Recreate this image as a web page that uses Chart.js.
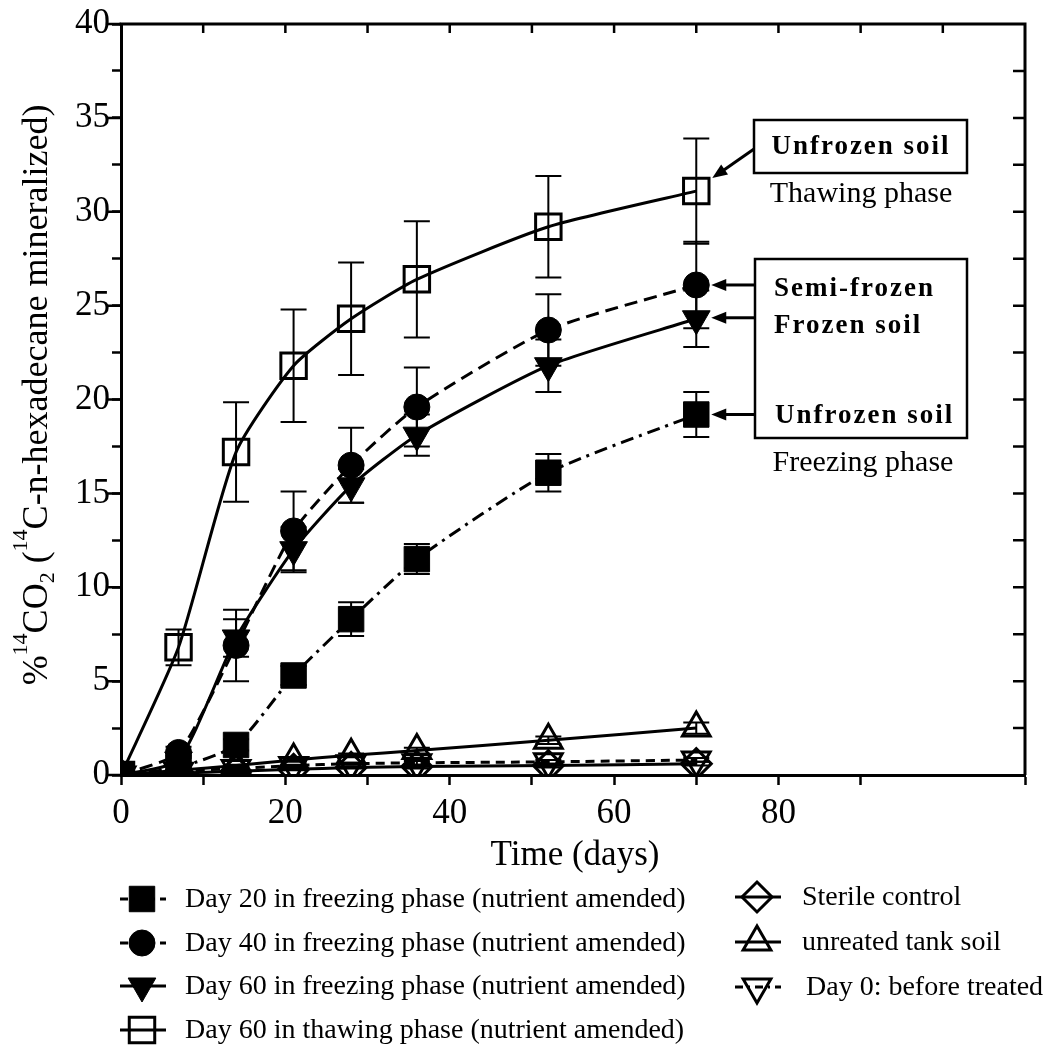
<!DOCTYPE html>
<html><head><meta charset="utf-8">
<script src="https://cdn.jsdelivr.net/npm/chart.js@4.4.0/dist/chart.umd.min.js"></script>
<style>html,body{margin:0;padding:0;background:#fff;}canvas{display:block;}</style>
</head><body>
<canvas id="c" width="1051" height="1049"></canvas>
<script>
// ---------------- DATA ----------------
const days = [0, 7, 14, 21, 28, 36, 52, 70];
const xTickLabels = [0, 20, 40, 60, 80];
const yTickLabels = [0, 5, 10, 15, 20, 25, 30, 35, 40];

const day20Freezing    = [0, 0.4, 1.6, 5.3, 8.3, 11.5, 16.1, 19.2];
const day20FreezingErr = [0, 0.1, 0.3, 0.5, 0.9, 0.8, 1.0, 1.2];
const day40Freezing    = [0, 1.2, 6.9, 13.0, 16.5, 19.6, 23.7, 26.1];
const day40FreezingErr = [0, 0.3, 1.9, 2.1, 2.0, 2.1, 1.9, 2.3];
const day60Freezing    = [0, 0.8, 7.3, 12.0, 15.4, 18.1, 21.8, 24.3];
const day60FreezingErr = [0, 0.2, 1.0, 1.2, 0.9, 1.1, 1.4, 1.5];
const day60Thawing     = [0, 6.8, 17.2, 21.8, 24.3, 26.4, 29.2, 31.1];
const day60ThawingErr  = [0, 0.95, 2.65, 3.0, 3.0, 3.1, 2.7, 2.8];
const sterileControl   = [0, 0.1, 0.2, 0.3, 0.4, 0.45, 0.5, 0.6];
const sterileErr       = [0, 0, 0.05, 0.05, 0.05, 0.1, 0.1, 0.1];
const untreatedSoil    = [0, 0.25, 0.5, 0.8, 1.05, 1.3, 1.85, 2.5];
const untreatedErr     = [0, 0, 0.05, 0.1, 0.1, 0.15, 0.2, 0.3];
const day0Before       = [0, 0.2, 0.35, 0.5, 0.6, 0.65, 0.7, 0.8];
const day0Err          = [0, 0, 0.05, 0.05, 0.05, 0.1, 0.1, 0.1];

const seriesLabels = [
  'Day 20 in freezing phase (nutrient amended)',
  'Day 40 in freezing phase (nutrient amended)',
  'Day 60 in freezing phase (nutrient amended)',
  'Day 60 in thawing phase (nutrient amended)',
  'Sterile control',
  'unreated tank soil',
  'Day 0: before treated'
];
// --------------------------------------

const FONT = "'Liberation Serif', 'Times New Roman', serif";

function pts(arr){ return days.map((d,i)=>({x:d, y:arr[i]})); }

const styles = [
  {style:'rect', r:18, rot:0, filled:true,  dash:[13,6,3,6]},
  {style:'circle', r:13, rot:0, filled:true, dash:[13,7]},
  {style:'triangle', r:16, rot:180, filled:true, dash:[]},
  {style:'rect', r:18, rot:0, filled:false, dash:[]},
  {style:'rectRot', r:15, rot:0, filled:false, dash:[]},
  {style:'triangle', r:16, rot:0, filled:false, dash:[]},
  {style:'triangle', r:16, rot:180, filled:false, dash:[9,6]}
];
const values = [day20Freezing, day40Freezing, day60Freezing, day60Thawing, sterileControl, untreatedSoil, day0Before];
const errors = [day20FreezingErr, day40FreezingErr, day60FreezingErr, day60ThawingErr, sterileErr, untreatedErr, day0Err];

const datasets = values.map((arr, k) => {
  const s = styles[k];
  return {
    label: seriesLabels[k],
    data: pts(arr),
    borderColor: '#000',
    borderWidth: 3,
    borderDash: s.dash,
    pointStyle: s.style,
    pointRadius: s.r,
    pointHoverRadius: s.r,
    pointRotation: s.rot,
    pointBackgroundColor: s.filled ? '#000' : 'rgba(0,0,0,0)',
    pointBorderColor: '#000',
    pointBorderWidth: s.filled ? 1 : 3,
    tension: 0.2,
    fill: false
  };
});

function drawMarker(ctx, s, x, y) {
  ctx.save();
  ctx.setLineDash([]);
  ctx.lineWidth = s.filled ? 1 : 3;
  ctx.strokeStyle = '#000';
  ctx.fillStyle = '#000';
  ctx.beginPath();
  const r = s.r;
  if (s.style === 'rect') {
    const h = r * Math.SQRT1_2;
    ctx.rect(x - h, y - h, 2*h, 2*h);
  } else if (s.style === 'circle') {
    ctx.arc(x, y, r, 0, Math.PI*2);
  } else if (s.style === 'rectRot') {
    ctx.moveTo(x, y - r); ctx.lineTo(x + r, y); ctx.lineTo(x, y + r); ctx.lineTo(x - r, y); ctx.closePath();
  } else if (s.style === 'triangle') {
    let rad = s.rot * Math.PI / 180;
    for (let i = 0; i < 3; i++) {
      const a = rad - Math.PI/2 + i * 2*Math.PI/3;
      const px = x + Math.cos(a) * r, py = y + Math.sin(a) * r;
      if (i === 0) ctx.moveTo(px, py); else ctx.lineTo(px, py);
    }
    ctx.closePath();
  }
  if (s.filled) ctx.fill();
  ctx.stroke();
  ctx.restore();
}

function arrow(ctx, x1, y1, x2, y2) {
  const ang = Math.atan2(y2 - y1, x2 - x1);
  const L = 15, W = 6;
  ctx.save();
  ctx.setLineDash([]);
  ctx.strokeStyle = '#000'; ctx.fillStyle = '#000'; ctx.lineWidth = 3;
  ctx.beginPath();
  ctx.moveTo(x1, y1);
  ctx.lineTo(x2 - Math.cos(ang)*L*0.8, y2 - Math.sin(ang)*L*0.8);
  ctx.stroke();
  ctx.beginPath();
  ctx.moveTo(x2, y2);
  ctx.lineTo(x2 - Math.cos(ang)*L - Math.sin(ang)*W, y2 - Math.sin(ang)*L + Math.cos(ang)*W);
  ctx.lineTo(x2 - Math.cos(ang)*L + Math.sin(ang)*W, y2 - Math.sin(ang)*L - Math.cos(ang)*W);
  ctx.closePath();
  ctx.fill();
  ctx.restore();
}

const errorBarPlugin = {
  id: 'errorBars',
  beforeDatasetsDraw(chart) {
    const ctx = chart.ctx, y = chart.scales.y, x = chart.scales.x;
    ctx.save();
    ctx.strokeStyle = '#000';
    ctx.lineWidth = 2;
    ctx.setLineDash([]);
    errors.forEach((errArr, k) => {
      errArr.forEach((e, i) => {
        if (!e) return;
        const px = x.getPixelForValue(days[i]);
        const top = y.getPixelForValue(values[k][i] + e);
        const bot = y.getPixelForValue(values[k][i] - e);
        ctx.beginPath();
        ctx.moveTo(px, top); ctx.lineTo(px, bot);
        ctx.moveTo(px - 13, top); ctx.lineTo(px + 13, top);
        ctx.moveTo(px - 13, bot); ctx.lineTo(px + 13, bot);
        ctx.stroke();
      });
    });
    ctx.restore();
  }
};

const decorPlugin = {
  id: 'decor',
  afterDraw(chart) {
    const ctx = chart.ctx, a = chart.chartArea, xs = chart.scales.x, ys = chart.scales.y;
    ctx.save();
    // frame top & right with inward ticks
    ctx.strokeStyle = '#000'; ctx.lineWidth = 3; ctx.setLineDash([]);
    ctx.beginPath();
    ctx.moveTo(a.left - 1.5, a.top); ctx.lineTo(a.right, a.top); ctx.lineTo(a.right, a.bottom);
    ctx.stroke();
    ctx.lineWidth = 2.5;
    ctx.beginPath();
    for (let v = 10; v < 110; v += 10) {
      const px = xs.getPixelForValue(v);
      ctx.moveTo(px, a.top); ctx.lineTo(px, a.top + 9);
    }
    for (let v = 2.5; v < 40; v += 2.5) {
      const py = ys.getPixelForValue(v);
      ctx.moveTo(a.right, py); ctx.lineTo(a.right - 12, py);
    }
    // longer major ticks on left axis
    for (let v = 0; v <= 40; v += 5) {
      const py = ys.getPixelForValue(v);
      ctx.moveTo(a.left, py); ctx.lineTo(a.left - 13, py);
    }
    ctx.stroke();

    // x title
    ctx.fillStyle = '#000';
    ctx.font = '35px ' + FONT;
    ctx.textAlign = 'center'; ctx.textBaseline = 'middle';
    ctx.fillText('Time (days)', (a.left + a.right)/2 + 2, a.bottom + 81);

    // y title (rotated with super/subscripts)
    const segs = [
      {t:'%', s:36, dy:0}, {t:'14', s:22, dy:-20}, {t:'CO', s:36, dy:0}, {t:'2', s:22, dy:7},
      {t:' (', s:36, dy:0}, {t:'14', s:22, dy:-20}, {t:'C-n-hexadecane mineralized)', s:36, dy:0}
    ];
    let total = 0;
    segs.forEach(g => { ctx.font = g.s + 'px ' + FONT; g.w = ctx.measureText(g.t).width; total += g.w; });
    ctx.save();
    ctx.translate(47, 395);
    ctx.rotate(-Math.PI/2);
    ctx.textAlign = 'left'; ctx.textBaseline = 'alphabetic';
    let cx = -total/2;
    segs.forEach(g => { ctx.font = g.s + 'px ' + FONT; ctx.fillText(g.t, cx, g.dy); cx += g.w; });
    ctx.restore();

    // Legend
    const leftRows = [899, 943, 986, 1030];
    const rightRows = [897, 942, 987];
    ctx.font = '28px ' + FONT;
    ctx.textAlign = 'left'; ctx.textBaseline = 'middle';
    for (let k = 0; k < 7; k++) {
      const left = k < 4;
      const ry = left ? leftRows[k] : rightRows[k - 4];
      const mx = left ? 142 : 757;
      const tx = left ? 185 : (k === 6 ? 806 : 802);
      ctx.save();
      ctx.lineWidth = 3; ctx.strokeStyle = '#000';
      ctx.setLineDash(styles[k].dash.length ? [8, 5, 2, 5] : []);
      ctx.beginPath(); ctx.moveTo(mx - 22, ry); ctx.lineTo(mx + 24, ry); ctx.stroke();
      ctx.restore();
      drawMarker(ctx, styles[k], mx, ry);
      ctx.fillStyle = '#000';
      ctx.fillText(seriesLabels[k], tx, ry + 1);
    }

    // Annotations
    const x70 = xs.getPixelForValue(70);
    const n = days.length - 1;
    ctx.lineWidth = 2.5; ctx.strokeStyle = '#000'; ctx.setLineDash([]);
    ctx.strokeRect(754, 120, 213, 53);
    ctx.strokeRect(755, 259, 212, 179);
    ctx.fillStyle = '#000';
    ctx.font = 'bold 27px ' + FONT;
    ctx.letterSpacing = '2px';
    ctx.textAlign = 'center';
    ctx.fillText('Unfrozen soil', 861, 147);
    ctx.textAlign = 'left';
    ctx.fillText('Semi-frozen', 774, 289);
    ctx.fillText('Frozen soil', 774, 326);
    ctx.fillText('Unfrozen soil', 775, 416);
    ctx.letterSpacing = '0px';
    ctx.font = '30px ' + FONT;
    ctx.textAlign = 'center';
    ctx.fillText('Thawing phase', 861, 194);
    ctx.fillText('Freezing phase', 863, 463);

    arrow(ctx, 754, 149, x70 + 16, ys.getPixelForValue(day60Thawing[n]) - 13);
    arrow(ctx, 754, ys.getPixelForValue(day40Freezing[n]), x70 + 15, ys.getPixelForValue(day40Freezing[n]));
    arrow(ctx, 754, ys.getPixelForValue(day60Freezing[n]) - 1, x70 + 15, ys.getPixelForValue(day60Freezing[n]) - 1);
    arrow(ctx, 754, ys.getPixelForValue(day20Freezing[n]), x70 + 15, ys.getPixelForValue(day20Freezing[n]));
    ctx.restore();
  }
};

new Chart(document.getElementById('c'), {
  type: 'line',
  data: { datasets },
  options: {
    responsive: false,
    animation: false,
    devicePixelRatio: 1,
    layout: { padding: { left: 0, right: 26, top: 24, bottom: 174 } },
    plugins: { legend: { display: false }, tooltip: { enabled: false } },
    scales: {
      x: {
        type: 'linear', min: 0, max: 110,
        afterFit: s => { s.height = 100; },
        ticks: {
          stepSize: 10, autoSkip: false, maxRotation: 0, padding: 8,
          color: '#000', font: { family: FONT, size: 35 },
          callback: v => xTickLabels.includes(v) ? String(v) : ''
        },
        grid: {
          drawOnChartArea: false, drawTicks: true, tickLength: 10, tickWidth: 2.5,
          tickColor: c => (c.tick && c.tick.value === 100) ? 'rgba(0,0,0,0)' : '#000'
        },
        border: { display: true, color: '#000', width: 3 }
      },
      y: {
        type: 'linear', min: 0, max: 40,
        afterFit: s => { s.width = 121; },
        ticks: {
          stepSize: 2.5, autoSkip: false, padding: 2,
          color: '#000', font: { family: FONT, size: 35 },
          callback: v => yTickLabels.includes(v) ? String(v) : ''
        },
        grid: { drawOnChartArea: false, drawTicks: true, tickLength: 9, tickWidth: 2.5, tickColor: '#000' },
        border: { display: true, color: '#000', width: 3 }
      }
    }
  },
  plugins: [errorBarPlugin, decorPlugin]
});
</script>
</body></html>
